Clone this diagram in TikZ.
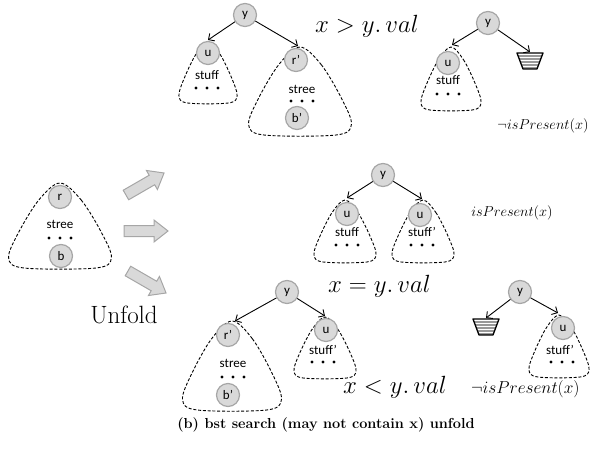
\documentclass[tikz,border=0pt]{standalone}
\usepackage{fontspec}
\usetikzlibrary{arrows.meta}
\newfontfamily\carl{Carlito}
\definecolor{cgray}{HTML}{D9D9D9}
\definecolor{cborder}{HTML}{A6A6A6}
\newcommand{\dblob}[4]{%
  \draw[blobline] plot[smooth cycle, tension=0.55] coordinates {
    (#1,#2)
    ({#1+0.4*#4},{#2+0.2*(#3-#2)})
    ({#1+0.78*#4},{#2+0.58*(#3-#2)})
    ({#1+0.97*#4},{#2+0.88*(#3-#2)})
    ({#1+0.68*#4},{#3})
    ({#1-0.68*#4},{#3})
    ({#1-0.97*#4},{#2+0.88*(#3-#2)})
    ({#1-0.78*#4},{#2+0.58*(#3-#2)})
    ({#1-0.4*#4},{#2+0.2*(#3-#2)})};}
\newcommand{\tdots}[2]{\foreach \dd in {-11,0,11} \fill ({#1+\dd},{#2}) circle (1.7);}
\newcommand{\stripetri}[3]{%
  \coordinate (#3) at ({#1},{#2-1});
  \begin{scope}
    \clip ({#1-13},{#2}) -- ({#1+13},{#2}) -- ({#1+7},{#2+16}) -- ({#1-7},{#2+16}) -- cycle;
    \foreach \s in {3,6,...,15} \draw[black!40, line width=1.5pt] ({#1-14},{#2+\s}) -- ({#1+14},{#2+\s});
  \end{scope}
  \draw[line width=1.3pt, line join=round] ({#1-13},{#2}) -- ({#1+13},{#2}) -- ({#1+7},{#2+16}) -- ({#1-7},{#2+16}) -- cycle;}
\newcommand{\blockarrow}[3]{%
  \begin{scope}[shift={(#1,#2)}, rotate=#3]
    \draw[fill=cgray, draw=cborder, line width=1pt, line join=miter]
      (-22,-5.5) -- (8,-5.5) -- (8,-11) -- (22,0) -- (8,11) -- (8,5.5) -- (-22,5.5) -- cycle;
  \end{scope}}
\tikzset{
  circ/.style={circle, fill=cgray, draw=cborder, line width=1.2pt, minimum size=23pt, inner sep=0pt, font={\carl\fontsize{13}{15}\selectfont}},
  blobline/.style={line width=0.9pt, dash pattern=on 3pt off 1.8pt},
  conn/.style={-{Straight Barb[length=4.5pt,width=9pt]}, line width=0.9pt},
  lbl/.style={font={\carl\fontsize{13}{15}\selectfont}, inner sep=0pt},
  mathbig/.style={font=\fontsize{28}{32}\selectfont, inner sep=0pt},
}
\begin{document}
\begin{tikzpicture}[x=1pt,y=-1pt]
\useasboundingbox (0,0) rectangle (592,450);
% ---------- top left tree
\dblob{208}{42}{103}{30}
\dblob{300}{47}{135}{53}
\coordinate (a1) at (208,40);
\coordinate (a2) at (298,46);
\node[circ] (y1) at (245,15) {y};
\node[circ] (u1) at (208,53) {u};
\node[lbl] (s1) at (207,75) {stuff};
\tdots{207}{88}
\node[circ] (r1) at (296,60) {r’};
\node[lbl] (t1) at (302,89) {stree};
\tdots{302}{101}
\node[circ] (b1) at (297,118) {b’};
\draw[conn] (y1) -- (a1);
\draw[conn] (y1) -- (a2);
\node[mathbig, anchor=base west] (m1) at (315,32) {$x > y.\,val$};
% ---------- top right tree
\dblob{451}{47}{110}{31}
\coordinate (a3) at (452,45);
\node[circ] (y2) at (488,23) {y};
\node[circ] (u2) at (448,63) {u};
\node[lbl] (s2) at (448,80) {stuff};
\tdots{448}{94}
\stripetri{530}{53}{tr1}
\draw[conn] (y2) -- (a3);
\draw[conn] (y2) -- (tr1);
\node[font=\fontsize{14}{17}\selectfont, inner sep=0pt] (m2) at (543,126) {$\neg isPresent(x)$};
% ---------- left stree
\dblob{60}{183}{268}{53}
\node[circ] (r0) at (60,197) {r};
\node[lbl] (t0) at (60,224) {stree};
\tdots{60}{238}
\node[circ] (b0) at (61,256) {b};
\blockarrow{145}{184}{30}
\blockarrow{146}{231}{0}
\blockarrow{147}{282}{-30}
\node[font=\fontsize{25}{29}\selectfont, inner sep=0pt, anchor=base] (uf) at (124,323) {Unfold};
% ---------- middle tree
\dblob{345}{200}{262}{32}
\dblob{423}{200}{262}{32}
\coordinate (a4) at (347,198);
\coordinate (a5) at (422,199);
\node[circ] (y3) at (383,175) {y};
\node[circ] (u3) at (347,214) {u};
\node[circ] (u4) at (420,215) {u};
\node[lbl] (s3) at (347,232) {stuff};
\node[lbl] (s4) at (422,232) {stuff’};
\tdots{347}{245}
\tdots{422}{245}
\draw[conn] (y3) -- (a4);
\draw[conn] (y3) -- (a5);
\node[font=\fontsize{15}{18}\selectfont, inner sep=0pt] (m3) at (512,213) {$isPresent(x)$};
\node[mathbig, anchor=base west] (m4) at (328,292) {$x = y.\,val$};
% ---------- bottom left tree
\dblob{232}{321}{410}{51}
\dblob{325}{317}{378}{32}
\coordinate (a6) at (235,321);
\coordinate (a7) at (325,316);
\node[circ] (y5) at (287,292) {y};
\node[circ] (r5) at (228,335) {r’};
\node[lbl] (t5) at (233,363) {stree};
\tdots{233}{377}
\node[circ] (b5) at (228,395) {b’};
\node[circ] (u5) at (326,330) {u};
\node[lbl] (s5) at (323,350) {stuff’};
\tdots{323}{362}
\draw[conn] (y5) -- (a6);
\draw[conn] (y5) -- (a7);
\node[mathbig, anchor=base west] (m5) at (343,393) {$x < y.\,val$};
% ---------- bottom right tree
\dblob{559}{315}{377}{31}
\coordinate (a8) at (558,313);
\node[circ] (y6) at (520,292) {y};
\stripetri{486}{319}{tr2}
\node[circ] (u6) at (563,328) {u};
\node[lbl] (s6) at (560,350) {stuff’};
\tdots{562}{362}
\draw[conn] (y6) -- (tr2);
\draw[conn] (y6) -- (a8);
\node[font=\fontsize{19}{22}\selectfont, inner sep=0pt, anchor=base west] (m6) at (471,393) {$\neg isPresent(x)$};
% ---------- caption
\node[font=\fontsize{14.5}{17}\selectfont\bfseries, inner sep=0pt] (cap) at (326,425) {(b) bst search (may not contain x) unfold};
\end{tikzpicture}
\end{document}
